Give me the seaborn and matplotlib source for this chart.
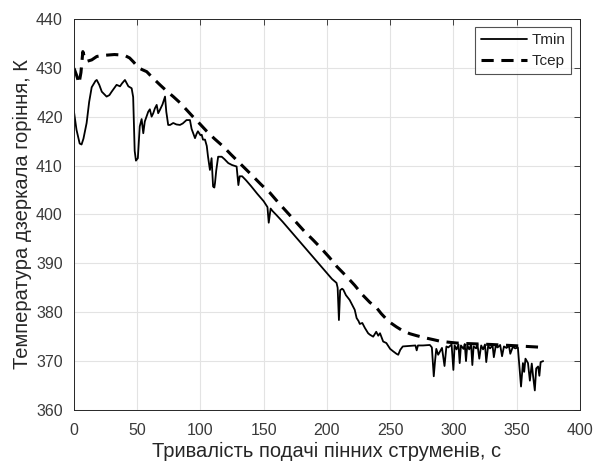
import pandas as pd
import seaborn as sns
import matplotlib.pyplot as plt

# Tmin - noisy minimum temperature
t_min_x = [0, 2, 4.5, 6, 7.5, 10, 12, 14, 17, 18, 20, 22, 25.8, 28, 29.8, 33.7, 36.4, 38, 40.3, 43,
           45.6, 46.8, 48, 49, 50.5, 52, 53.5, 54.8, 56, 58.7, 60, 61.4, 62.7, 64, 65.4, 66.6, 68, 70,
           72, 73, 74.5, 76, 78.5, 81, 83.8, 86, 89, 91.7, 93, 95.7, 97, 98, 100, 101, 102, 103.6,
           105, 106, 107.5, 108.8, 110, 111, 111.5, 112.5, 114, 116.8, 119, 122, 125, 128.6, 130,
           131, 133, 136, 140, 145, 150, 153, 154, 155.5, 157, 160, 165, 170, 175, 180, 185, 190,
           195, 200, 204, 207.6, 208.5, 209.5, 210.5, 212, 213, 215, 218, 220, 222, 223.5, 225, 226,
           228, 230, 232.6, 234, 236.6, 239, 240.6, 242, 244.5, 247, 250, 252.4, 255, 256.4, 258,
           260, 265, 270, 271, 272, 276, 281.4, 283, 284.5, 285.5, 286.5, 288, 291, 293, 294.5, 296,
           298.6, 300, 301, 302.5, 304, 305, 306, 308, 309, 310, 311, 312.5, 314, 315, 316, 318, 319,
           320.5, 322, 323.5, 325, 326, 327.5, 329, 331, 332, 333.5, 335, 337, 338.5, 340, 342, 344,
           345, 347, 349, 351, 352.5, 353.5, 355, 356, 357, 359, 360.5, 362, 363, 364.4, 365.5, 367,
           368, 369, 371]
t_min_y = [421, 417.3, 414.5, 414.3, 415.5, 418.7, 423, 426, 427.3, 427.5, 426.5, 425.1, 424.1, 424.4,
           425.1, 426.5, 426.2, 426.8, 427.5, 426.2, 425.8, 424, 413, 411, 411.5, 418, 419.5, 416.6,
           419, 421, 421.5, 420, 420.7, 421.7, 422.4, 420.7, 421.4, 422.5, 424.1, 421, 418.3, 418.3,
           418.7, 418.4, 418.3, 418.6, 419.3, 419.3, 417.5, 415.6, 416.5, 417, 416.2, 416.3, 415.3,
           415.3, 414, 411.8, 409.1, 411.5, 405.7, 405.5, 406.4, 409, 411.8, 411.8, 411.3, 410.5,
           410.1, 409.8, 406, 407.8, 407.8, 407, 405.8, 404.2, 402.7, 401.5, 398.3, 401.2, 400.7,
           399.9, 398.5, 397.0, 395.5, 394.0, 392.5, 391.0, 389.5, 388.0, 386.8, 386, 385, 378.4,
           384.5, 384.8, 384.6, 383.5, 382.5, 381.5, 380.5, 378.8, 378.2, 377.6, 377.8, 376.8, 375.7,
           375.4, 375, 376, 375.2, 375.7, 374, 373.7, 372.5, 372, 371.5, 371.3, 372.3, 373, 373.1,
           373.2, 372.2, 373.2, 373.2, 373.3, 372.8, 366.9, 370, 372.5, 371.3, 372.7, 369, 373,
           372.8, 373.4, 368.2, 373.2, 372.4, 373.4, 369.6, 373.2, 372.5, 373.5, 370.0, 373.3,
           372.4, 373.4, 369.2, 373.0, 372.6, 373.5, 370.5, 373.2, 372.4, 373.4, 369.8, 373.1,
           372.6, 373.2, 370.8, 373.1, 372.8, 373.3, 371.0, 373.0, 372.7, 373.1, 371.5, 372.9,
           372.6, 372.8, 368, 364.8, 369.6, 367.8, 370.5, 369.6, 366, 369.5, 367, 364, 368.5, 368.9,
           367, 369.8, 370]

# Tсер - average temperature
t_avg_x = [0, 2, 4, 5.5, 7, 8.5, 10, 14, 18, 22, 27, 32, 37.7, 41, 44, 47, 51, 54, 57.5, 62, 68, 73,
           78.5, 84, 89, 94, 99.6, 105, 111, 118, 124, 131, 140, 148, 155, 162, 168, 175, 182, 189,
           195, 202, 208, 215.6, 222, 228, 234, 239, 243, 247, 250, 255, 260, 265.6, 271, 277, 284,
           289, 295, 302.5, 310, 320, 330, 337, 345, 352, 358, 365, 371]
t_avg_y = [429.9, 428.5, 426.8, 429, 433.3, 432, 431.3, 431.6, 432.3, 432.5, 432.6, 432.7, 432.6,
           432.4, 432, 431.2, 430, 429.6, 429.2, 428, 426.5, 425.3, 424.1, 422.8, 421.4, 420, 418.5,
           417, 415.5, 413.9, 412.3, 410.5, 408.2, 406.1, 404.4, 402.3, 400.6, 398.6, 396.6, 394.8,
           393.2, 391.2, 389.3, 387.3, 385.5, 383.6, 382.0, 381.0, 379.7, 378.6, 377.9, 377, 376.2,
           375.6, 375.2, 374.8, 374.4, 374.1, 373.9, 373.7, 373.6, 373.5, 373.4, 373.3, 373.2, 373.1,
           373.0, 372.9, 372.8]

x_ticks = [0, 50, 100, 150, 200, 250, 300, 350, 400]
y_ticks = [360, 370, 380, 390, 400, 410, 420, 430, 440]

df_min = pd.DataFrame({'t': t_min_x, 'T': t_min_y})
df_avg = pd.DataFrame({'t': t_avg_x, 'T': t_avg_y})

sns.set_style('whitegrid')
plt.rcParams['font.family'] = ['Liberation Sans', 'DejaVu Sans']

fig = plt.figure(figsize=(5.99, 4.71), dpi=100)
ax = fig.add_axes([0.1235, 0.1295, 0.8445, 0.8305])

sns.lineplot(data=df_min, x='t', y='T', ax=ax, color='black', linewidth=1.3,
             sort=False, estimator=None, label='Tmin')
sns.lineplot(data=df_avg, x='t', y='T', ax=ax, color='black', linewidth=2.2,
             sort=False, estimator=None, label='Тсер', dashes=False)
ax.lines[1].set_dashes((4, 2.5))

ax.set_xlim(0, 400)
ax.set_ylim(360, 440)
ax.set_xticks(x_ticks)
ax.set_yticks(y_ticks)
ax.tick_params(axis='both', direction='in', length=4, width=0.6, colors='#262626',
               labelsize=11.5, top=True, right=True)
ax.tick_params(axis='y', pad=8)
ax.tick_params(axis='x', pad=9)
ax.tick_params(labelcolor='#3a3a3a')
ax.grid(True, color='#e3e3e3', linewidth=0.8)
for s in ax.spines.values():
    s.set_color('#262626')
    s.set_linewidth(0.7)

ax.set_xlabel('Тривалість подачі пінних струменів, с', fontsize=14.5, color='#262626', labelpad=3)
ax.set_ylabel('Температура дзеркала горіння, К', fontsize=14.5, color='#262626', labelpad=3)

leg = ax.legend(loc='upper right', fontsize=11, frameon=True, fancybox=False,
                handlelength=3.0, borderaxespad=0.55, borderpad=0.4, labelspacing=0.45,
                handletextpad=0.3)
leg.get_frame().set_edgecolor('#262626')
leg.get_frame().set_linewidth(0.8)
leg.get_lines()[1].set_dashes((4, 2.5))

fig.savefig('out.png', dpi=100)
